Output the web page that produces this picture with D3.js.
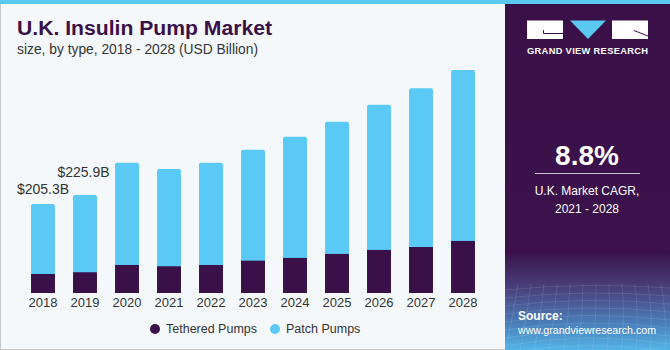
<!DOCTYPE html>
<html>
<head>
<meta charset="utf-8">
<script src="https://cdn.jsdelivr.net/npm/d3@7"></script>
<style>
  html, body { margin: 0; padding: 0; background: #ffffff; }
  svg { display: block; }
</style>
</head>
<body>
<svg id="chart" width="670" height="350"></svg>
<script>
// ---- Data ----
const years = ["2018","2019","2020","2021","2022","2023","2024","2025","2026","2027","2028"];
const tethered = [43.8, 47.8, 64.6, 61.6, 64.6, 74.5, 80.8, 90.0, 99.2, 106.0, 120.0];
const patch    = [161.5, 178.1, 235.4, 224.4, 235.4, 255.5, 279.2, 305.0, 334.8, 366.0, 394.0];
const seriesNames = ["Tethered Pumps", "Patch Pumps"];
const labelYears = ["2018", "2019"];
const labelTexts = ["$205.3B", "$225.9B"];
const titleText = "U.K. Insulin Pump Market";
const subtitleText = "size, by type, 2018 - 2028 (USD Billion)";
const cagrValue = "8.8%";
const cagrLines = ["U.K. Market CAGR,", "2021 - 2028"];

const colDark = "#3a1049";
const colLight = "#5bc9f6";
const FONT = "'Liberation Sans', Arial, sans-serif";

const svg = d3.select("#chart");
const W = 670, H = 350;

const defs = svg.append("defs");
const grad = defs.append("linearGradient").attr("id", "panelGrad")
  .attr("x1", 0).attr("y1", 0).attr("x2", 0).attr("y2", 1);
grad.append("stop").attr("offset", "0").attr("stop-color", "#3a1049");
grad.append("stop").attr("offset", "0.72").attr("stop-color", "#3b124b");
grad.append("stop").attr("offset", "0.83").attr("stop-color", "#4a4480");
grad.append("stop").attr("offset", "0.93").attr("stop-color", "#4a82bd");
grad.append("stop").attr("offset", "1").attr("stop-color", "#52b4e8");

// Background
svg.append("rect").attr("x", 0).attr("y", 0).attr("width", W).attr("height", H).attr("fill", "#f4f8fb");
svg.append("rect").attr("x", 0.5).attr("y", 0.5).attr("width", W - 1).attr("height", H - 1)
  .attr("fill", "none").attr("stroke", "#c8c8c8").attr("stroke-width", 1);

// Right panel
const px0 = 505;
svg.append("rect").attr("x", px0).attr("y", 0).attr("width", W - px0).attr("height", H).attr("fill", "url(#panelGrad)");

// faint grid in panel bottom
const gridG = svg.append("g").attr("stroke", "#ffffff").attr("stroke-opacity", 0.13).attr("fill", "none").attr("stroke-width", 0.8);
for (let i = 0; i < 14; i++) {
  const gx = px0 + i * 13;
  gridG.append("path").attr("d", `M${gx},284 Q${gx - 6 + i},316 ${gx - 14 + i * 1.5},350`);
}
for (let j = 0; j < 9; j++) {
  const gy = 286 + j * 8;
  gridG.append("path").attr("d", `M${px0},${gy + 4} Q${px0 + 80},${gy - 4 - j} ${W},${gy + 2}`);
}

// Top strip
svg.append("rect").attr("x", 0).attr("y", 0).attr("width", W).attr("height", 4).attr("fill", "#5bc8f2");

// Titles
svg.append("text").attr("x", 17).attr("y", 35).text(titleText)
  .attr("font-family", FONT).attr("font-weight", "bold")
  .attr("font-size", 19.5).attr("fill", "#3a1049")
  .attr("textLength", 255).attr("lengthAdjust", "spacingAndGlyphs");
svg.append("text").attr("x", 17).attr("y", 54).text(subtitleText)
  .attr("font-family", FONT)
  .attr("font-size", 14).attr("fill", "#333333")
  .attr("textLength", 241).attr("lengthAdjust", "spacingAndGlyphs");

// Scales
const x = d3.scaleBand().domain(years).range([22, 484]).paddingInner(0.43).paddingOuter(0.215);
const y = d3.scaleLinear().domain([0, 514]).range([293, 70]);

const totals = years.map((yr, i) => tethered[i] + patch[i]);

// Patch (full stack) bars with rounded tops
svg.append("g").selectAll("rect").data(years).join("rect")
  .attr("x", d => x(d))
  .attr("y", (d, i) => y(totals[i]))
  .attr("width", x.bandwidth())
  .attr("height", (d, i) => y(0) - y(totals[i]))
  .attr("rx", 2)
  .attr("fill", colLight);

// Tethered bars
svg.append("g").selectAll("rect").data(years).join("rect")
  .attr("x", d => x(d))
  .attr("y", (d, i) => y(tethered[i]))
  .attr("width", x.bandwidth())
  .attr("height", (d, i) => y(0) - y(tethered[i]))
  .attr("fill", colDark);

// X axis
const xAxis = svg.append("g").attr("transform", `translate(0,${y(0)})`)
  .call(d3.axisBottom(x).tickSize(0).tickPadding(5));
xAxis.select(".domain").remove();
xAxis.selectAll("text").attr("font-family", FONT)
  .attr("font-size", 13).attr("fill", "#333333");

// Value labels
const labelLift = [10, 18];
const labelShift = [0, -1.5];
svg.append("g").selectAll("text").data(labelTexts).join("text")
  .attr("x", (d, i) => x(labelYears[i]) + x.bandwidth() / 2 + labelShift[i])
  .attr("y", (d, i) => y(totals[years.indexOf(labelYears[i])]) - labelLift[i])
  .attr("text-anchor", "middle")
  .attr("font-family", FONT)
  .attr("font-size", 14).attr("fill", "#333333")
  .text(d => d);

// Legend
const legendItems = [
  {name: seriesNames[0], color: colDark, cx: 155},
  {name: seriesNames[1], color: colLight, cx: 275}
];
const lg = svg.append("g");
lg.selectAll("circle").data(legendItems).join("circle")
  .attr("cx", d => d.cx).attr("cy", 329).attr("r", 5).attr("fill", d => d.color);
lg.selectAll("text").data(legendItems).join("text")
  .attr("x", d => d.cx + 11).attr("y", 333)
  .attr("font-family", FONT)
  .attr("font-size", 12.5).attr("fill", "#333333")
  .text(d => d.name);

// Logo
const logo = svg.append("g");
logo.append("rect").attr("x", 527).attr("y", 20.5).attr("width", 36).attr("height", 18.5).attr("fill", "#ffffff");
logo.append("path").attr("d", "M543.5,30 V33.5 H563").attr("stroke", colDark).attr("stroke-width", 1).attr("fill", "none");
logo.append("path").attr("d", "M570,20.5 L606,20.5 L588,39 Z").attr("fill", "#5bc8f2");
logo.append("rect").attr("x", 612).attr("y", 20.5).attr("width", 36).attr("height", 18.5).attr("fill", "#ffffff");
logo.append("path").attr("d", "M634,30.5 L648,36").attr("stroke", colDark).attr("stroke-width", 1).attr("fill", "none");
logo.append("text").attr("x", 527).attr("y", 54)
  .attr("font-family", FONT).attr("font-weight", "bold")
  .attr("font-size", 9.3).attr("fill", "#ffffff")
  .attr("textLength", 121).attr("lengthAdjust", "spacing")
  .text("GRAND VIEW RESEARCH");

// CAGR
svg.append("text").attr("x", 587).attr("y", 165).attr("text-anchor", "middle")
  .attr("font-family", FONT).attr("font-weight", "bold")
  .attr("font-size", 28).attr("fill", "#ffffff").text(cagrValue);
svg.append("line").attr("x1", 535).attr("x2", 640).attr("y1", 173.5).attr("y2", 173.5)
  .attr("stroke", "#c9bcd3").attr("stroke-width", 1);
svg.append("g").selectAll("text").data(cagrLines).join("text")
  .attr("x", 587).attr("y", (d, i) => 195 + i * 17.5).attr("text-anchor", "middle")
  .attr("font-family", FONT)
  .attr("font-size", 12).attr("fill", "#ffffff").text(d => d);

// Source
svg.append("text").attr("x", 518).attr("y", 319.5)
  .attr("font-family", FONT).attr("font-weight", "bold")
  .attr("font-size", 12).attr("fill", "#ffffff").text("Source:");
svg.append("text").attr("x", 518).attr("y", 333.5)
  .attr("font-family", FONT)
  .attr("font-size", 11.2).attr("fill", "#ffffff")
  .attr("textLength", 138).attr("lengthAdjust", "spacingAndGlyphs")
  .text("www.grandviewresearch.com");
</script>
</body>
</html>
